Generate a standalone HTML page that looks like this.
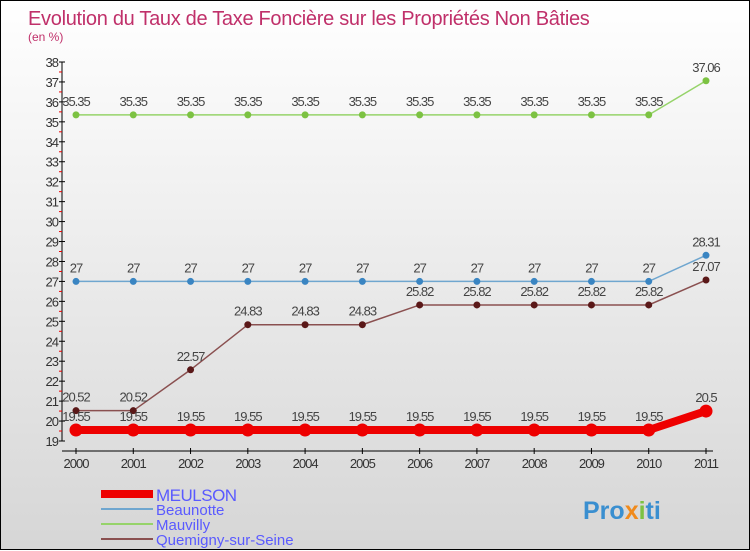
<!DOCTYPE html>
<html><head><meta charset="utf-8"><style>
html,body{margin:0;padding:0}
body{width:750px;height:550px;overflow:hidden;font-family:"Liberation Sans",sans-serif}
#wrap{position:relative;width:748px;height:548px;border:1px solid #000;background:linear-gradient(#fff,#d6d6d6)}
svg{position:absolute;left:0;top:0}
</style></head><body>
<div id="wrap">
<svg id="chart" width="750" height="550">
<text x="27" y="24" font-size="20" fill="#c0306a" letter-spacing="-0.3">Evolution du Taux de Taxe Foncière sur les Propriétés Non Bâties</text>
<text x="27" y="40" font-size="12" fill="#c0306a">(en %)</text>
<g id="axes"></g><g id="series"></g>
<g>
<rect x="100" y="489" width="52" height="8" fill="#e00"/>
<text x="155" y="500" font-size="17" fill="#5a5aff" letter-spacing="-0.5">MEULSON</text>
<line x1="100" x2="152" y1="508" y2="508" stroke="#6fa6cf" stroke-width="2"/>
<text x="155" y="514" font-size="15" fill="#5a5aff">Beaunotte</text>
<line x1="100" x2="152" y1="523" y2="523" stroke="#96d36a" stroke-width="2"/>
<text x="155" y="529" font-size="15" fill="#5a5aff">Mauvilly</text>
<line x1="100" x2="152" y1="538" y2="538" stroke="#8a5050" stroke-width="2"/>
<text x="155" y="544" font-size="15" fill="#5a5aff">Quemigny-sur-Seine</text>
</g>
<text x="582" y="518" font-size="25" font-weight="bold" fill="#3a8fd0">Pro<tspan fill="#f08a1c">x</tspan><tspan fill="#7cc242">i</tspan>ti</text>
</svg>
</div>
<script>
const years=[2000,2001,2002,2003,2004,2005,2006,2007,2008,2009,2010,2011];
const meulson=[19.55,19.55,19.55,19.55,19.55,19.55,19.55,19.55,19.55,19.55,19.55,20.5];
const beaunotte=[27,27,27,27,27,27,27,27,27,27,27,28.31];
const mauvilly=[35.35,35.35,35.35,35.35,35.35,35.35,35.35,35.35,35.35,35.35,35.35,37.06];
const quemigny=[20.52,20.52,22.57,24.83,24.83,24.83,25.82,25.82,25.82,25.82,25.82,27.07];
const yTicks=[19,20,21,22,23,24,25,26,27,28,29,30,31,32,33,34,35,36,37,38];
const NS="http://www.w3.org/2000/svg";
const X=i=>75+i*(630/11);
const Y=v=>440-(v-19)*(379/19);
function mk(tag,attrs,parent,name,text){const e=document.createElementNS(NS,tag);for(const k in attrs)e.setAttribute(k,attrs[k]);


if(text!==undefined)e.textContent=text;parent.appendChild(e);return e;}
const ax=document.getElementById('axes'),sr=document.getElementById('series');
mk('line',{x1:61,x2:61,y1:Y(38),y2:Y(19),stroke:'#000'},ax,'y-axis-line');
yTicks.forEach(t=>{mk('line',{x1:58,x2:64,y1:Y(t),y2:Y(t),stroke:'#000'},ax,'y-tick');
if(t<38)mk('line',{x1:58,x2:61,y1:Y(t+0.5),y2:Y(t+0.5),stroke:'#e00'},ax,'y-minor-tick');
mk('text',{x:57,y:Y(t)+5,'font-size':13,fill:'#333','text-anchor':'end','letter-spacing':'-1'},ax,'y-tick-label',t);});
mk('line',{x1:61,x2:712,y1:450,y2:450,stroke:'#000'},ax,'x-axis-line');
years.forEach((y,i)=>{mk('line',{x1:X(i),x2:X(i),y1:447,y2:453,stroke:'#000'},ax,'x-tick');
mk('text',{x:X(i),y:467,'font-size':13,fill:'#333','text-anchor':'middle','letter-spacing':'-1'},ax,'x-tick-label',y);});
function series(vals,color,dot,lw,r,name){
mk('polyline',{points:vals.map((v,i)=>X(i)+','+Y(v)).join(' '),fill:'none',stroke:color,'stroke-width':lw},sr,name+'-line');
vals.forEach((v,i)=>{mk('circle',{cx:X(i),cy:Y(v),r:r,fill:dot},sr,name+'-point');
mk('text',{x:X(i),y:Y(v)-9,'font-size':13,fill:'#444','text-anchor':'middle','letter-spacing':'-1'},sr,name+'-value-label',v);});}
series(mauvilly,'#96d36a','#7cc242',1.5,3.5,'mauvilly');
series(beaunotte,'#6fa6cf','#3a85c2',1.5,3.5,'beaunotte');
series(quemigny,'#8a5050','#5a1818',1.5,3.5,'quemigny');
series(meulson,'#e00','#e00',8,6.5,'meulson');
</script>
</body></html>
